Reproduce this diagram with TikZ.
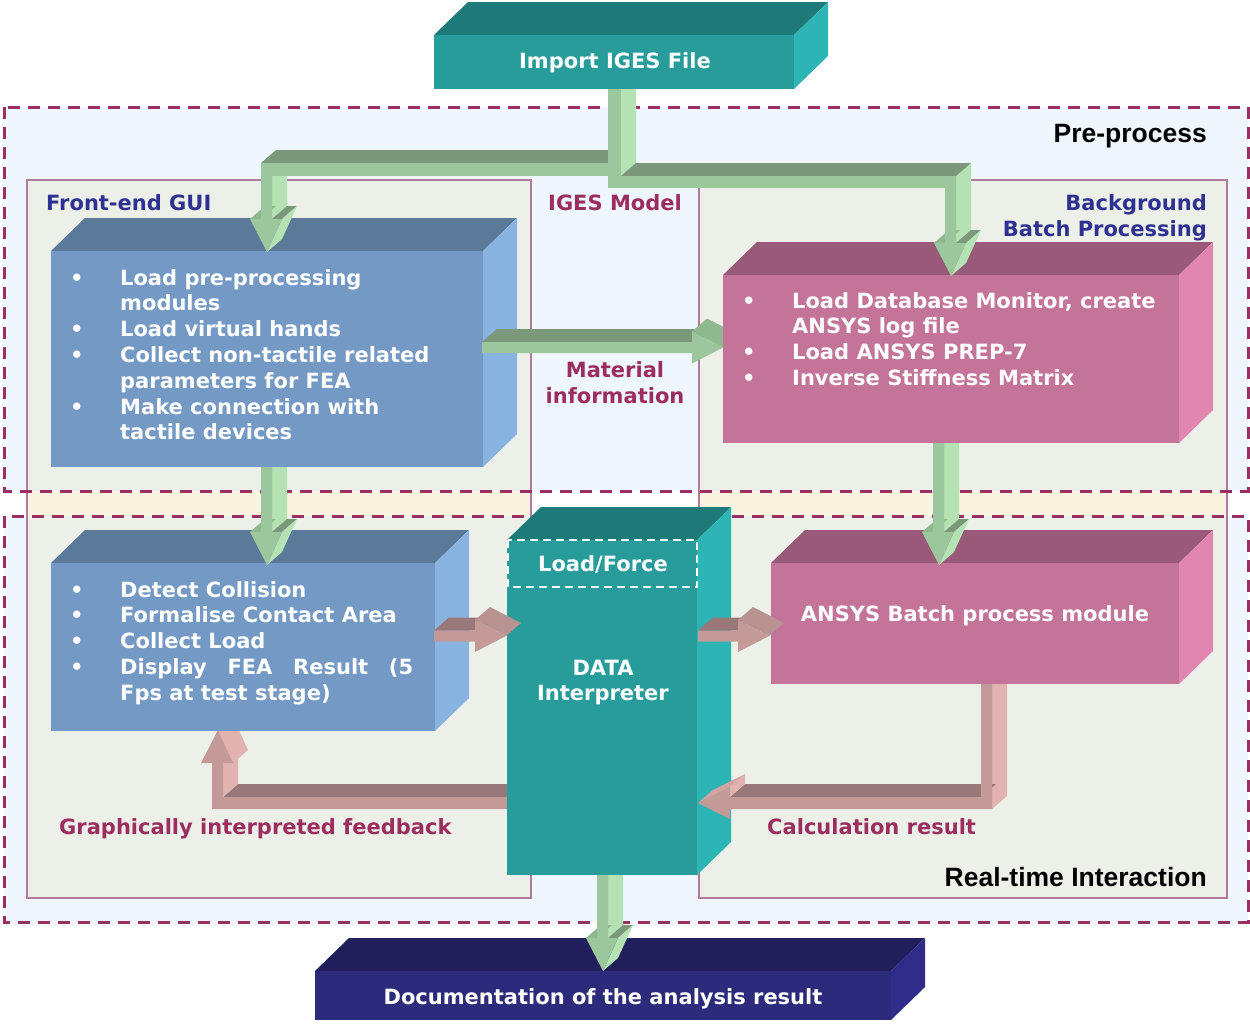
\documentclass[tikz,border=0pt]{standalone}
\usepackage{fontspec}
\newfontfamily\vb{DejaVu Sans}
\newfontfamily\ab{Liberation Sans}
\definecolor{dashc}{HTML}{9A2F63}
\definecolor{regfill}{HTML}{EFF6FD}
\definecolor{innerfill}{HTML}{ECF0E8}
\definecolor{innerline}{HTML}{B07A9E}
\definecolor{beige}{HTML}{FAF3E0}
\definecolor{lblue}{HTML}{2E3192}
\definecolor{lred}{HTML}{9B2D5F}
\definecolor{tealF}{HTML}{279C9B}
\definecolor{tealT}{HTML}{1E7A78}
\definecolor{tealS}{HTML}{2DB4B4}
\definecolor{blueF}{HTML}{7499C4}
\definecolor{blueT}{HTML}{5B7A9A}
\definecolor{blueS}{HTML}{89B3E0}
\definecolor{pinkF}{HTML}{C47399}
\definecolor{pinkT}{HTML}{995A79}
\definecolor{pinkS}{HTML}{E086B1}
\definecolor{navyF}{HTML}{2B2A7B}
\definecolor{navyT}{HTML}{201F5B}
\definecolor{navyS}{HTML}{2F2D89}
\definecolor{gM}{HTML}{9CC69B}
\definecolor{gL}{HTML}{B4E2B2}
\definecolor{gD}{HTML}{7B987A}
\definecolor{gU}{HTML}{8FB88E}
\definecolor{pM}{HTML}{C49A98}
\definecolor{pL}{HTML}{E2B2B1}
\definecolor{pD}{HTML}{987878}
\definecolor{pU}{HTML}{B89391}
\definecolor{pT}{HTML}{D4A4A3}
\tikzset{
  vtext/.style={font=\vb\bfseries\fontsize{21}{26}\selectfont, inner sep=0pt},
  wtext/.style={vtext, text=white},
  btext/.style={vtext, text=lblue},
  rtext/.style={vtext, text=lred},
  atext/.style={font=\ab\bfseries\fontsize{26.5}{30}\selectfont, inner sep=0pt, text=black},
  region/.style={draw=dashc, line width=3pt, dash pattern=on 12pt off 8pt},
  innerbox/.style={draw=innerline, line width=1.6pt},
  face/.style={inner sep=0pt, outer sep=0pt, anchor=north west},
  loadbox/.style={draw=white, line width=1.8pt, dash pattern=on 8pt off 5pt},
}
% 3D box: name, x1, y1, x2, y2, front, top, side
\newcommand\cube[8]{%
  \fill[#7] (#2,#3) -- (#4,#3) -- (#4+34,#3-33) -- (#2+34,#3-33) -- cycle;
  \fill[#8] (#4,#3) -- (#4+34,#3-33) -- (#4+34,#5-33) -- (#4,#5) -- cycle;
  \node[face, fill=#6, minimum width={(#4-#2)*1pt}, minimum height={(#5-#3)*1pt}] (#1) at (#2,#3) {};}
% downward 3D arrow: stem left x, stem start y, head top y
\newcommand\darrow[3]{%
  \fill[gL] (#1+11,#2) -- (#1+11,#3) -- (#1+26,#3-13) -- (#1+26,#2) -- cycle;
  \fill[gU] (#1-11,#3) -- (#1,#3) -- (#1+15,#3-13) -- (#1+4,#3-13) -- cycle;
  \fill[gD] (#1+11,#3) -- (#1+21,#3) -- (#1+36,#3-13) -- (#1+26,#3-13) -- cycle;
  \fill[gL] (#1+21,#3) -- (#1+6,#3+33) -- (#1+21,#3+20) -- (#1+36,#3-13) -- cycle;
  \fill[gM] (#1,#2) -- (#1+11,#2) -- (#1+11,#3) -- (#1+21,#3) -- (#1+6,#3+33) -- (#1-11,#3) -- (#1,#3) -- cycle;}
% rightward 3D arrow: shaft start x, head base x, centre y, mid, dark, upper
\newcommand\rarrow[6]{%
  \fill[#5] (#1,#3-5.5) -- (#2,#3-5.5) -- (#2+15,#3-18.5) -- (#1+15,#3-18.5) -- cycle;
  \fill[#6] (#2,#3-16) -- (#2+31,#3) -- (#2+46,#3-13) -- (#2+15,#3-29) -- cycle;
  \fill[#4] (#1,#3-5.5) -- (#2,#3-5.5) -- (#2,#3-16) -- (#2+31,#3) -- (#2,#3+16) -- (#2,#3+5.5) -- (#1,#3+5.5) -- cycle;}
\newcommand\bul{\makebox[50pt][l]{•}}
\newcommand\ind{\hspace*{50pt}}
\begin{document}
\begin{tikzpicture}[x=1pt,y=-1pt]
\useasboundingbox (0,0) rectangle (1250,1023);
\fill[white] (0,0) rectangle (1250,1023);
% backgrounds
\fill[beige] (27,491) rectangle (531,516);
\fill[beige] (699,491) rectangle (1227,516);
\fill[regfill] (4,107) rectangle (1248,491);
\fill[regfill] (4,516) rectangle (1248,922);
\fill[innerfill] (27,180) rectangle (531,491);
\fill[innerfill] (27,516) rectangle (531,898);
\fill[innerfill] (699,180) rectangle (1227,491);
\fill[innerfill] (699,516) rectangle (1227,898);
\draw[innerbox] (27,180) rectangle (531,898);
\draw[innerbox] (699,180) rectangle (1227,898);
\draw[region] (4,107) rectangle (1248,491);
\draw[region] (4,516) rectangle (1248,922);
% labels
\node[atext, anchor=base east] (pre) at (1207,142) {Pre-process};
\node[atext, anchor=base east] (rti) at (1207,886) {Real-time Interaction};
\node[btext, anchor=base west] (feg) at (46,210) {Front-end GUI};
\node[rtext, anchor=base] (igm) at (615,210) {IGES Model};
\node[btext, anchor=base east] (bg1) at (1207,210) {Background};
\node[btext, anchor=base east] (bg2) at (1207,236) {Batch Processing};
\node[rtext, anchor=base] (mat1) at (615,377) {Material};
\node[rtext, anchor=base] (mat2) at (615,403) {information};
\node[rtext, anchor=base west] (gif) at (59,834) {Graphically interpreted feedback};
\node[rtext, anchor=base west] (calcr) at (767,834) {Calculation result};
% import box
\cube{imp}{434}{35}{794}{89}{tealF}{tealT}{tealS}
\node[wtext, anchor=base] (imptxt) at (615,68) {Import IGES File};
% front-end GUI box
\cube{gui}{51}{251}{483}{467}{blueF}{blueT}{blueS}
\node[wtext, anchor=base west] (g1) at (70,285) {\bul Load pre-processing};
\node[wtext, anchor=base west] (g2) at (70,310.8) {\ind modules};
\node[wtext, anchor=base west] (g3) at (70,336.6) {\bul Load virtual hands};
\node[wtext, anchor=base west] (g4) at (70,362.4) {\bul Collect non-tactile related};
\node[wtext, anchor=base west] (g5) at (70,388.2) {\ind parameters for FEA};
\node[wtext, anchor=base west] (g6) at (70,414) {\bul Make connection with};
\node[wtext, anchor=base west] (g7) at (70,439.8) {\ind tactile devices};
% material arrow
\rarrow{482}{692}{347.5}{gM}{gD}{gU}
% background batch box
\cube{bbp}{723}{275}{1179}{443}{pinkF}{pinkT}{pinkS}
\node[wtext, anchor=base west] (b1) at (742,308) {\bul Load Database Monitor, create};
\node[wtext, anchor=base west] (b2) at (742,333.8) {\ind ANSYS log file};
\node[wtext, anchor=base west] (b3) at (742,359.6) {\bul Load ANSYS PREP-7};
\node[wtext, anchor=base west] (b4) at (742,385.4) {\bul Inverse Stiffness Matrix};
% IGES model split arrow
\darrow{261}{163}{219}
\fill[gD] (261,163) -- (608,163) -- (623,150) -- (276,150) -- cycle;
\fill[gM] (261,163) rectangle (608,176);
\fill[gL] (621,89) -- (636,89) -- (636,163) -- (621,176) -- cycle;
\fill[gM] (608,89) rectangle (621,176);
\darrow{945}{163}{243}
\fill[gD] (621,176) -- (956,176) -- (971,163) -- (636,163) -- cycle;
\fill[gM] (608,176) rectangle (956,188);
% feedback arrow (behind GUI box 2 and DATA box)
\fill[pD] (223,797) -- (507,797) -- (522,784) -- (238,784) -- cycle;
\fill[pL] (223,763) -- (223,797) -- (238,784) -- (238,750) -- cycle;
\fill[pL] (233,763) -- (218,730) -- (233,717) -- (248,750) -- cycle;
\fill[pM] (212,809) -- (507,809) -- (507,797) -- (223,797) -- (223,763) -- (233,763) -- (218,730) -- (201,763) -- (212,763) -- cycle;
% GUI box 2
\cube{col}{51}{563}{435}{731}{blueF}{blueT}{blueS}
\node[wtext, anchor=base west] (c1) at (70,597) {\bul Detect Collision};
\node[wtext, anchor=base west] (c2) at (70,622.8) {\bul Formalise Contact Area};
\node[wtext, anchor=base west] (c3) at (70,648.6) {\bul Collect Load};
\node[wtext, anchor=base west] (c4) at (70,674.4) {\bul \makebox[293pt][s]{Display FEA Result (5}};
\node[wtext, anchor=base west] (c5) at (70,700.2) {\ind Fps at test stage)};
\darrow{261}{467}{532}
% ANSYS batch module
\cube{abm}{771}{563}{1179}{684}{pinkF}{pinkT}{pinkS}
\node[wtext, anchor=base] (abmtxt) at (975,621) {ANSYS Batch process module};
\darrow{933}{443}{532}
% DATA interpreter
\cube{dat}{507}{540}{697}{875}{tealF}{tealT}{tealS}
\draw[loadbox] (508,540) rectangle (697,587);
\node[wtext, anchor=base] (lf) at (603,571) {Load/Force};
\node[wtext, anchor=base] (d1) at (603,675) {DATA};
\node[wtext, anchor=base] (d2) at (603,700) {Interpreter};
% collision -> data, data -> ansys
\rarrow{434}{475}{636}{pM}{pD}{pU}
\rarrow{698}{738}{636}{pM}{pD}{pU}
% calculation result arrow
\fill[pL] (992,684) -- (992,809) -- (1007,796) -- (1007,684) -- cycle;
\fill[pD] (730,797) -- (981,797) -- (996,784) -- (745,784) -- cycle;
\fill[pT] (698,803) -- (730,787) -- (745,774) -- (713,790) -- cycle;
\fill[pL] (730,787) -- (730,797) -- (745,784) -- (745,774) -- cycle;
\fill[pM] (981,684) -- (992,684) -- (992,809) -- (730,809) -- (730,819) -- (698,803) -- (730,787) -- (730,797) -- (981,797) -- cycle;
% documentation
\cube{doc}{315}{971}{891}{1020}{navyF}{navyT}{navyS}
\node[wtext, anchor=base] (doctxt) at (603,1004) {Documentation of the analysis result};
\darrow{597}{875}{938}
\end{tikzpicture}
\end{document}
